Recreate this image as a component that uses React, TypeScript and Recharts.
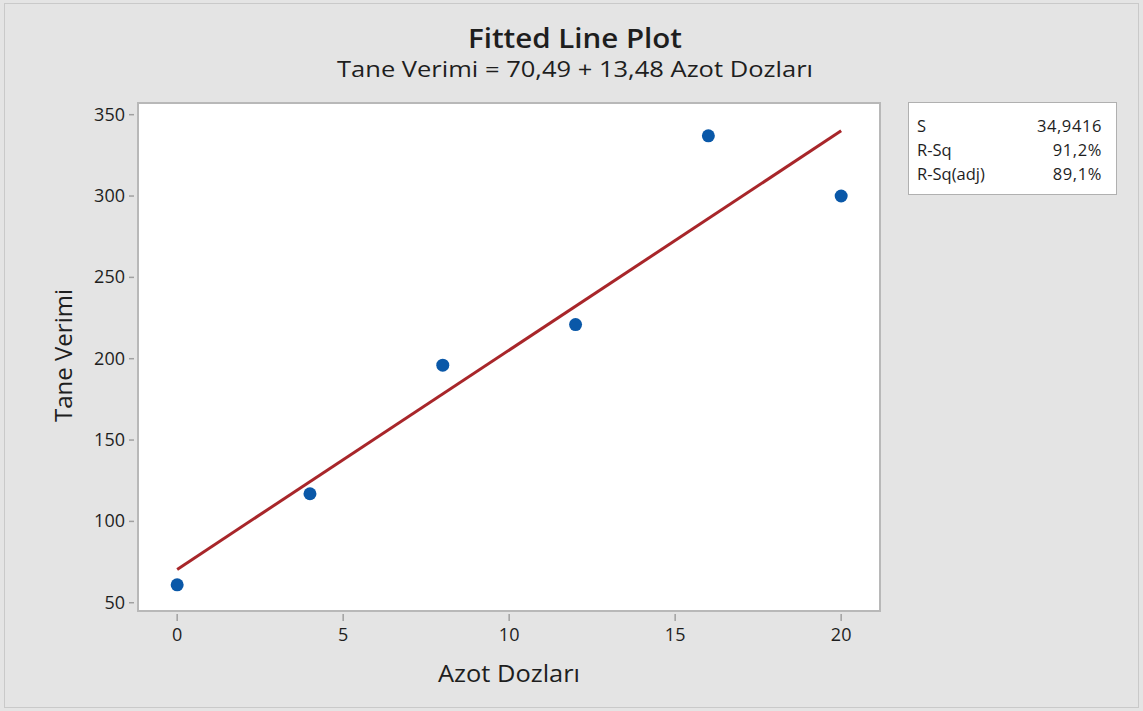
import { ComposedChart, Scatter, Line, XAxis, YAxis } from "recharts";

const doses = [0, 4, 8, 12, 16, 20];
const yields = [61, 117, 196, 221, 337, 300];
const fitX = [0, 20];
const fitY = [70.49, 340.09];
const xTicks = [0, 5, 10, 15, 20];
const yTicks = [50, 100, 150, 200, 250, 300, 350];
const statNames = ["S", "R-Sq", "R-Sq(adj)"];
const statValues = ["34,9416", "91,2%", "89,1%"];

const FONT = "'Open Sans', 'Noto Sans', sans-serif";
const INK = "#1e1e1e";
const TICK_GRAY = "#a0a0a0";

// plot frame in page pixels
const PLOT = { left: 137, top: 102, right: 881, bottom: 612 };

// ticks sit a few px away from the frame, like Minitab draws them
const XTick = ({ x, y, payload }: any) => (
  <g>
    <line x1={x} x2={x} y1={y + 2} y2={y + 9} stroke={TICK_GRAY} strokeWidth={1.5} />
    <text x={x} y={y + 29} textAnchor="middle" fontSize={18} fontFamily={FONT} fill={INK}>
      {payload.value}
    </text>
  </g>
);

const YTick = ({ x, y, payload }: any) => (
  <g>
    <line x1={x - 8} x2={x - 3} y1={y} y2={y} stroke={TICK_GRAY} strokeWidth={1.5} />
    <text x={x - 12} y={y + 6} textAnchor="end" fontSize={18} fontFamily={FONT} fill={INK}>
      {payload.value}
    </text>
  </g>
);

export default function App() {
  const points = doses.map((x, i) => ({ x, y: yields[i] }));
  const fit = fitX.map((x, i) => ({ x, y: fitY[i] }));

  return (
    <div
      style={{
        position: "absolute",
        left: 0,
        top: 0,
        width: 1143,
        height: 711,
        background: "#e4e4e4",
      }}
    >
      <div
        style={{
          position: "absolute",
          left: 4,
          top: 3,
          width: 1133,
          height: 703,
          border: "1px solid #c9c9c9",
        }}
      />

      {/* plot background + frame */}
      <div
        style={{
          position: "absolute",
          left: PLOT.left,
          top: PLOT.top,
          width: PLOT.right - PLOT.left,
          height: PLOT.bottom - PLOT.top,
          background: "#fff",
          boxSizing: "border-box",
          border: "2px solid #b8b8b8",
        }}
      />

      {/* stats box */}
      <div
        style={{
          position: "absolute",
          left: 908,
          top: 102,
          width: 209,
          height: 93,
          background: "#fff",
          boxSizing: "border-box",
          border: "1.5px solid #b0b0b0",
        }}
      />

      <div style={{ position: "absolute", left: 0, top: 0 }}>
        <ComposedChart
          width={1143}
          height={711}
          margin={{ top: PLOT.top, right: 1143 - PLOT.right, bottom: 711 - PLOT.bottom - 40, left: PLOT.left - 50 }}
        >
          <XAxis
            type="number"
            dataKey="x"
            domain={[-1.21, 21.2]}
            ticks={xTicks}
            height={40}
            axisLine={false}
            tickLine={false}
            tickSize={0}
            tickMargin={0}
            tick={<XTick />}
            allowDataOverflow
          />
          <YAxis
            type="number"
            dataKey="y"
            domain={[44.3, 357.8]}
            ticks={yTicks}
            width={50}
            axisLine={false}
            tickLine={false}
            tickSize={0}
            tickMargin={0}
            tick={<YTick />}
            allowDataOverflow
          />
          <Line
            data={fit}
            dataKey="y"
            type="linear"
            stroke="#a8262a"
            strokeWidth={3}
            dot={false}
            activeDot={false}
            isAnimationActive={false}
          />
          <Scatter
            data={points}
            dataKey="y"
            fill="#0a58a8"
            shape={(p: any) => <circle cx={p.cx} cy={p.cy} r={6.5} fill="#0a58a8" />}
            isAnimationActive={false}
          />
        </ComposedChart>
      </div>

      {/* titles, axis labels and stats text */}
      <svg
        width={1143}
        height={711}
        style={{ position: "absolute", left: 0, top: 0, pointerEvents: "none" }}
        fontFamily={FONT}
        fill={INK}
      >
        <text x={575} y={48} textAnchor="middle" fontSize={27} fontWeight={600} textLength={214} lengthAdjust="spacingAndGlyphs">
          Fitted Line Plot
        </text>
        <text x={575} y={77} textAnchor="middle" fontSize={21} textLength={476} lengthAdjust="spacingAndGlyphs">
          Tane Verimi = 70,49 + 13,48 Azot Dozları
        </text>
        <text x={509} y={682} textAnchor="middle" fontSize={23.5} textLength={142} lengthAdjust="spacingAndGlyphs">
          Azot Dozları
        </text>
        <text
          x={0}
          y={0}
          transform="translate(72 355.5) rotate(-90)"
          textAnchor="middle"
          fontSize={23.5}
          textLength={133}
          lengthAdjust="spacingAndGlyphs"
        >
          Tane Verimi
        </text>
        {statNames.map((n, i) => (
          <g key={n}>
            <text x={917} y={132 + i * 24} fontSize={16.5}>
              {n}
            </text>
            <text x={1102} y={132 + i * 24} fontSize={16.5} textAnchor="end" letterSpacing={0.6}>
              {statValues[i]}
            </text>
          </g>
        ))}
      </svg>
    </div>
  );
}
